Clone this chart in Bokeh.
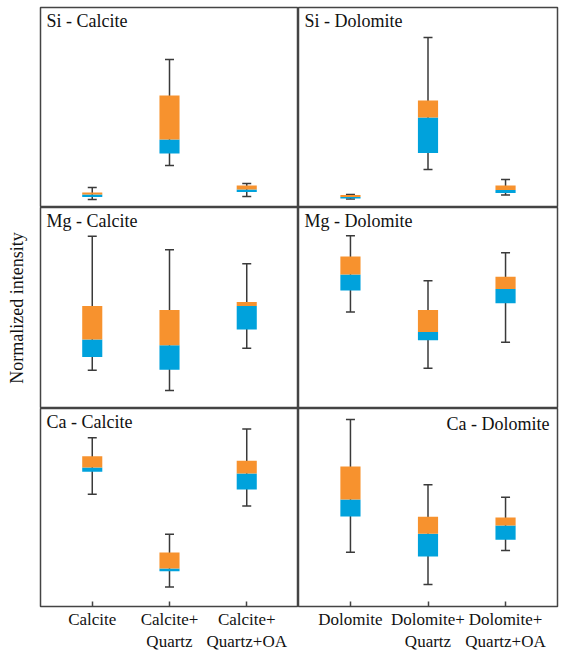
from bokeh.plotting import figure
from bokeh.layouts import gridplot
from bokeh.models import Range1d, FixedTicker, ColumnDataSource, Label
from bokeh.embed import file_html
from bokeh.resources import INLINE

# ---------------- data (normalized, 0-100 per panel) ----------------
calcite_groups = ["Calcite", "Calcite+\nQuartz", "Calcite+\nQuartz+OA"]
dolomite_groups = ["Dolomite", "Dolomite+\nQuartz", "Dolomite+\nQuartz+OA"]

si_calcite_low = [4.0, 21.0, 5.5]
si_calcite_q1 = [5.2, 27.0, 7.7]
si_calcite_med = [6.5, 34.0, 9.0]
si_calcite_q3 = [7.5, 56.0, 11.0]
si_calcite_high = [10.0, 74.0, 12.0]

si_dolomite_low = [4.2, 19.0, 6.3]
si_dolomite_q1 = [4.5, 27.3, 7.3]
si_dolomite_med = [5.3, 45.0, 8.7]
si_dolomite_q3 = [6.2, 53.5, 11.0]
si_dolomite_high = [6.5, 85.0, 14.0]

mg_calcite_low = [19.0, 9.0, 30.0]
mg_calcite_q1 = [25.6, 19.3, 39.3]
mg_calcite_med = [34.3, 31.5, 51.0]
mg_calcite_q3 = [51.0, 49.0, 53.0]
mg_calcite_high = [85.7, 79.0, 72.0]

mg_dolomite_low = [48.0, 20.0, 33.0]
mg_dolomite_q1 = [58.7, 34.0, 52.4]
mg_dolomite_med = [66.7, 38.0, 59.4]
mg_dolomite_q3 = [75.6, 49.0, 65.5]
mg_dolomite_high = [86.0, 63.5, 77.5]

ca_calcite_low = [56.7, 9.8, 50.7]
ca_calcite_q1 = [68.0, 17.8, 59.1]
ca_calcite_med = [70.2, 19.2, 67.2]
ca_calcite_q3 = [75.9, 27.3, 73.6]
ca_calcite_high = [85.2, 36.5, 89.7]

ca_dolomite_low = [27.4, 11.1, 28.3]
ca_dolomite_q1 = [45.5, 25.3, 33.7]
ca_dolomite_med = [54.0, 36.7, 40.9]
ca_dolomite_q3 = [70.7, 45.3, 45.0]
ca_dolomite_high = [94.4, 61.5, 55.2]

positions = [1, 2, 3]

# ---------------- style ----------------
ORANGE = "#F7922E"
BLUE = "#00A2DC"
FRAME = "#444444"
WHISK = "#3a3a3a"
FONT = "Liberation Serif"
FH = [200, 201, 198]
FW = [258, 259]


def make_panel(title, groups, low, q1, med, q3, high, row, col, title_right=False):
    p = figure(
        frame_width=FW[col], frame_height=FH[row],
        output_backend="svg", toolbar_location=None,
        x_range=Range1d(0.33, 3.67), y_range=Range1d(0, 100),
        min_border_left=40 if col == 0 else 0,
        min_border_right=0 if col == 0 else 4,
        min_border_top=7 if row == 0 else 0,
        min_border_bottom=45 if row == 2 else 0,
    )
    p.xgrid.visible = False
    p.ygrid.visible = False
    p.outline_line_color = FRAME
    p.outline_line_width = 1.5
    p.background_fill_color = "white"
    p.border_fill_color = "white"

    src = ColumnDataSource(dict(x=positions, low=low, q1=q1, med=med, q3=q3, high=high))
    p.segment(x0="x", y0="low", x1="x", y1="high", source=src,
              line_color=WHISK, line_width=1.5)
    p.scatter(x="x", y="high", source=src, marker="dash", size=9,
              line_color=WHISK, line_width=1.5)
    p.scatter(x="x", y="low", source=src, marker="dash", size=9,
              line_color=WHISK, line_width=1.5)
    p.vbar(x="x", bottom="q1", top="med", width=0.26, source=src,
           fill_color=BLUE, line_color=None)
    p.vbar(x="x", bottom="med", top="q3", width=0.26, source=src,
           fill_color=ORANGE, line_color=None)

    if title_right:
        lab = Label(x=3.67, y=100, x_offset=-8, y_offset=-5, text=title,
                    text_align="right", text_baseline="top",
                    text_font=FONT, text_font_size="18px", text_color="#111111")
    else:
        lab = Label(x=0.33, y=100, x_offset=6, y_offset=-3, text=title,
                    text_align="left", text_baseline="top",
                    text_font=FONT, text_font_size="18px", text_color="#111111")
    p.add_layout(lab)

    # x axis
    if row == 2:
        ax = p.xaxis[0]
        ax.ticker = FixedTicker(ticks=positions)
        ax.major_label_overrides = {pos: g for pos, g in zip(positions, groups)}
        ax.major_tick_in = 5
        ax.major_tick_out = 0
        ax.major_tick_line_color = FRAME
        ax.major_tick_line_width = 1.5
        ax.minor_tick_line_color = None
        ax.axis_line_color = None
        ax.major_label_standoff = 3
        ax.major_label_text_font = FONT
        ax.major_label_text_font_size = "17px"
        ax.major_label_text_color = "#111111"
        ax.major_label_text_line_height = 1.2
    else:
        p.xaxis.visible = False

    # y axis
    if row == 1 and col == 0:
        ay = p.yaxis[0]
        ay.ticker = FixedTicker(ticks=[])
        ay.major_tick_out = 0
        ay.major_tick_in = 0
        ay.minor_tick_line_color = None
        ay.axis_line_color = None
        ay.major_label_text_font_size = "0px"
        ay.major_label_standoff = 0
        ay.axis_label = "Normalized intensity"
        ay.axis_label_text_font = FONT
        ay.axis_label_text_font_size = "18px"
        ay.axis_label_text_font_style = "normal"
        ay.axis_label_text_color = "#111111"
        ay.axis_label_standoff = 14
    else:
        p.yaxis.visible = False
    return p


p1 = make_panel("Si - Calcite", calcite_groups, si_calcite_low, si_calcite_q1,
                si_calcite_med, si_calcite_q3, si_calcite_high, 0, 0)
p2 = make_panel("Si - Dolomite", dolomite_groups, si_dolomite_low, si_dolomite_q1,
                si_dolomite_med, si_dolomite_q3, si_dolomite_high, 0, 1)
p3 = make_panel("Mg - Calcite", calcite_groups, mg_calcite_low, mg_calcite_q1,
                mg_calcite_med, mg_calcite_q3, mg_calcite_high, 1, 0)
p4 = make_panel("Mg - Dolomite", dolomite_groups, mg_dolomite_low, mg_dolomite_q1,
                mg_dolomite_med, mg_dolomite_q3, mg_dolomite_high, 1, 1)
p5 = make_panel("Ca - Calcite", calcite_groups, ca_calcite_low, ca_calcite_q1,
                ca_calcite_med, ca_calcite_q3, ca_calcite_high, 2, 0)
p6 = make_panel("Ca - Dolomite", dolomite_groups, ca_dolomite_low, ca_dolomite_q1,
                ca_dolomite_med, ca_dolomite_q3, ca_dolomite_high, 2, 1, title_right=True)

grid = gridplot([[p1, p2], [p3, p4], [p5, p6]], toolbar_location=None)

open("out.html", "w").write(file_html(grid, INLINE))
